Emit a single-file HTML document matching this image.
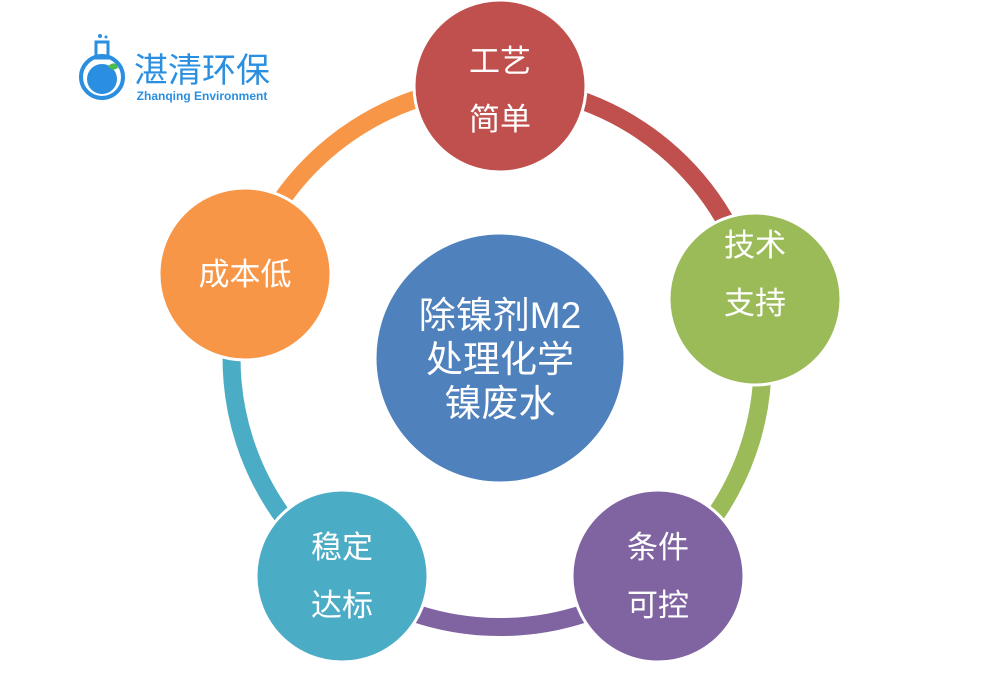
<!DOCTYPE html>
<html><head><meta charset="utf-8"><style>
body{margin:0;background:#fff;}
svg text{font-family:"Liberation Sans","Noto Sans CJK SC",sans-serif;fill:#fff;text-anchor:middle;}
</style></head><body>
<svg width="1000" height="669" viewBox="0 0 1000 669" xmlns="http://www.w3.org/2000/svg">
<g fill="none" stroke-width="18">
<path d="M500,85 A270,270 0 0 1 755,299" stroke="#C0504D"/>
<path d="M755,299 A270,270 0 0 1 658,576" stroke="#9BBB59"/>
<path d="M658,576 A270,270 0 0 1 342,576" stroke="#8064A2"/>
<path d="M342,576 A270,270 0 0 1 245,274" stroke="#4BACC6"/>
<path d="M245,274 A270,270 0 0 1 500,85" stroke="#F79646"/>
</g>
<g stroke="#fff" stroke-width="3">
<circle cx="500" cy="86" r="86" fill="#C0504D"/>
<circle cx="755" cy="299" r="86" fill="#9BBB59"/>
<circle cx="658" cy="576" r="86" fill="#8064A2"/>
<circle cx="342" cy="576" r="86" fill="#4BACC6"/>
<circle cx="245" cy="274" r="86" fill="#F79646"/>
<circle cx="500" cy="358" r="125" fill="#4F81BD"/>
</g>
<g font-size="31">
<text x="500" y="72">工艺</text><text x="500" y="130">简单</text>
<text x="755" y="256">技术</text><text x="755" y="314">支持</text>
<text x="658" y="558">条件</text><text x="658" y="616">可控</text>
<text x="342" y="558">稳定</text><text x="342" y="616">达标</text>
<text x="245" y="285">成本低</text>
</g>
<g font-size="37">
<text x="500" y="328">除镍剂M2</text>
<text x="500" y="372">处理化学</text>
<text x="500" y="416">镍废水</text>
</g>
<g>
<circle cx="102" cy="77" r="21" fill="none" stroke="#2a8fe0" stroke-width="4"/>
<circle cx="102" cy="79" r="15" fill="#2a8fe0"/>
<rect x="96" y="42" width="12" height="16" fill="none" stroke="#2a8fe0" stroke-width="3"/>
<path d="M108,66 q8,-6 10,2 q-6,4 -10,-2z" fill="#4cbb4c"/>
<circle cx="100" cy="36" r="2" fill="#2a8fe0"/><circle cx="106" cy="37" r="1.5" fill="#2a8fe0"/>
<text x="202" y="82" font-size="34" style="fill:#2a8fe0">湛清环保</text>
<text x="202" y="100" font-size="12" font-weight="bold" style="fill:#2a8fe0">Zhanqing Environment</text>
</g>
</svg>
</body></html>
